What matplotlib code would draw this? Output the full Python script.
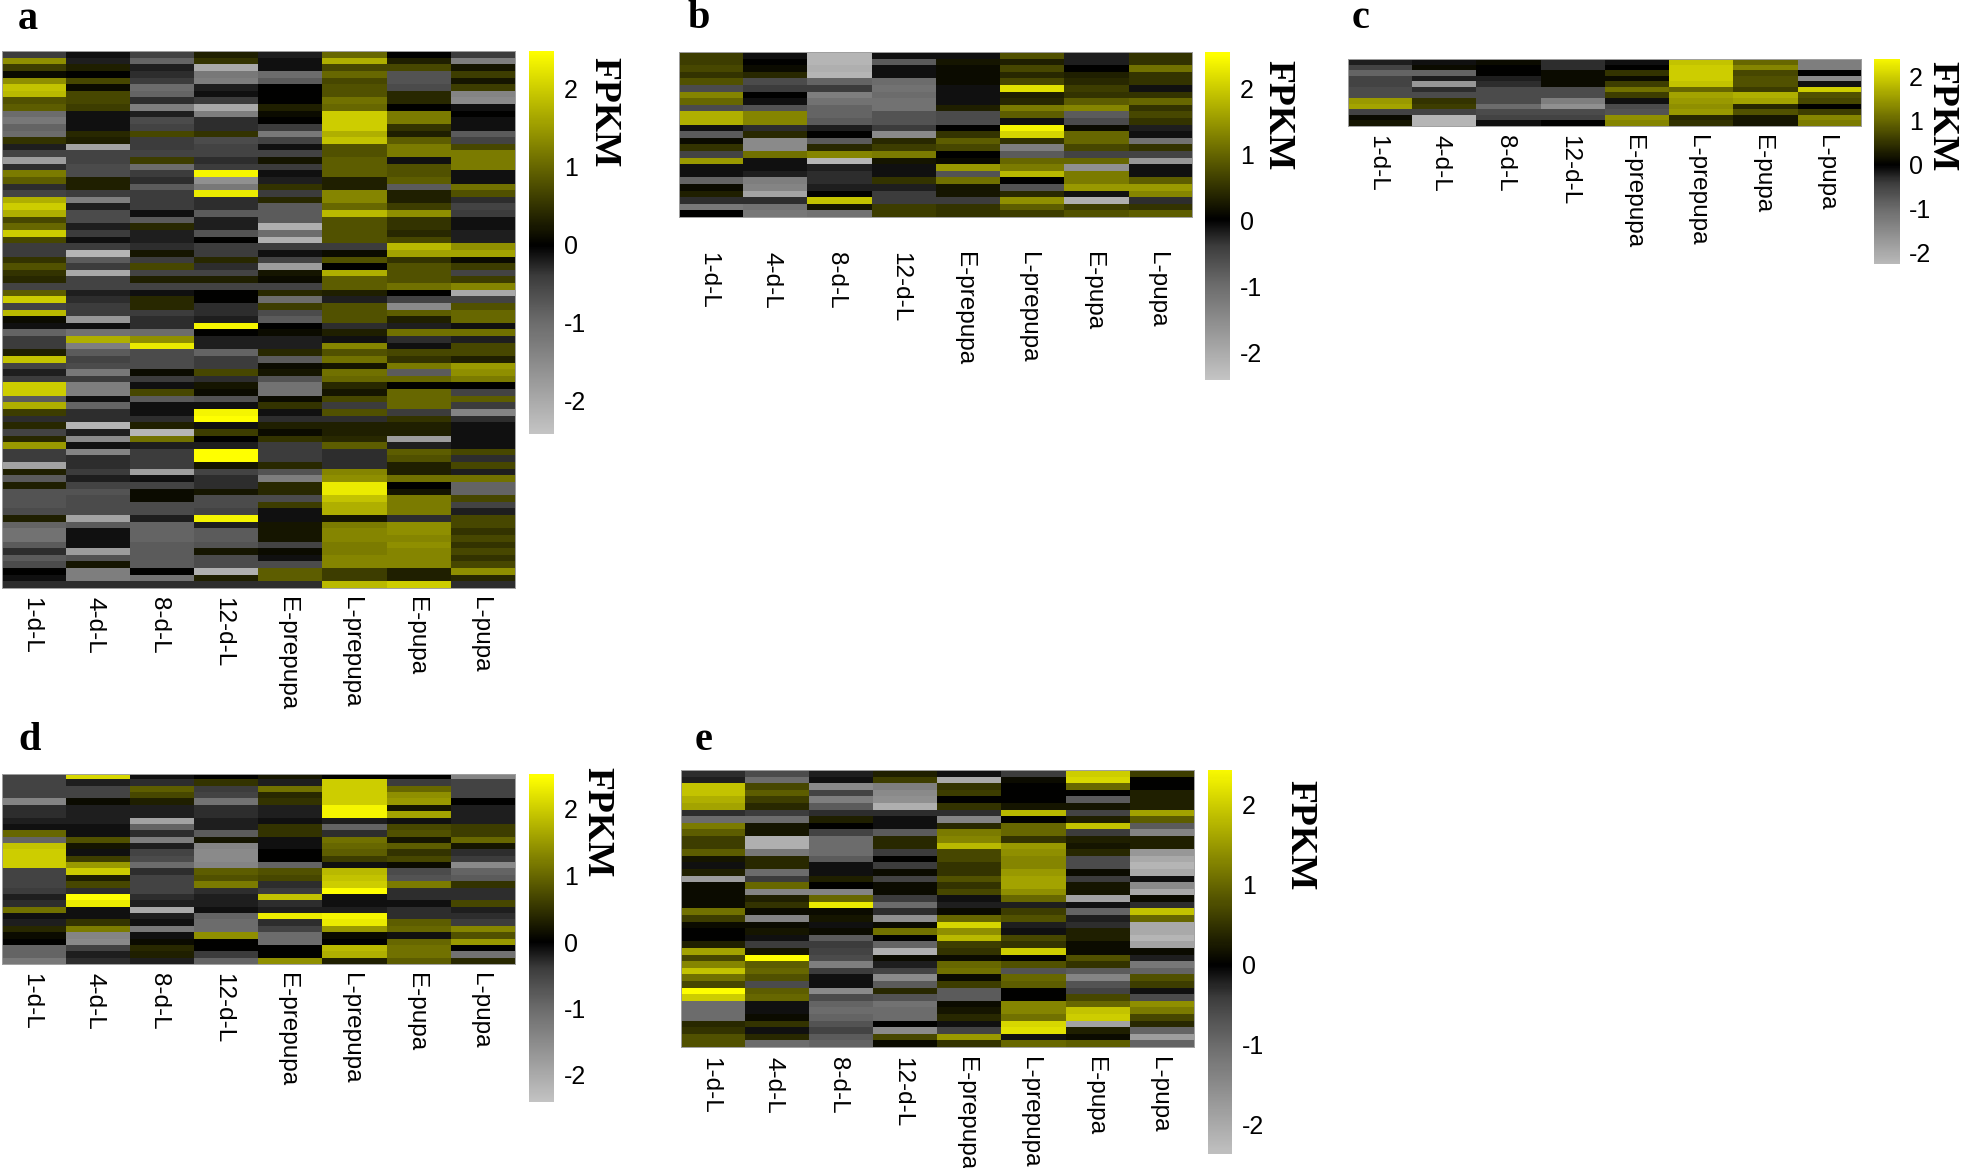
import numpy as np
import matplotlib
matplotlib.use("Agg")
import matplotlib.pyplot as plt
from matplotlib.colors import LinearSegmentedColormap

W, H = 1961, 1168
stages = ["1-d-L", "4-d-L", "8-d-L", "12-d-L", "E-prepupa", "L-prepupa", "E-pupa", "L-pupa"]
cbar_ticks = [2, 1, 0, -1, -2]

# panel a, one list per stage, rows top to bottom
a_1 = [-.4,1.4,.6,.1,1.4,1.9,1.8,.8,.9,
       -1,-1.2,-.9,-1,.5,-.2,-.5,-1.8,-.3,
       1.2,.9,-.3,-.5,1.7,2,1.7,.7,1,
       2,.7,-.4,-.4,.5,.8,.5,.4,-.5,
       .9,2,-.5,1.8,.1,-.1,-.9,-.4,-.4,
       .3,1.9,-.5,-.2,-.4,2,2,-.8,1.7,
       .6,-.3,.4,-.5,.4,1.5,-.4,-.4,-1.9,
       .3,-.8,.3,-.7,-.7,-.7,-.6,.3,-.9,
       -1.1,-1.1,-.8,-.3,-.8,-.6,0,-.1,-.3]
a_2 = [-.1,-.2,.3,0,.7,.1,.7,.7,.6,
       -.1,-.1,-.1,.4,.3,-1.9,-.5,-.5,-.6,
       -.6,.3,.3,-.4,-1.3,-.2,-.6,-.6,-.2,
       -.4,-.1,-.4,-2.2,-.8,-.4,-2,-.5,-.5,
       -.2,-.3,-.4,-.4,-1.7,-.1,-1.1,1.7,-1.3,
       -.8,-.5,-.6,-1.2,-.4,-1.3,-1.3,-.1,-.9,
       -.3,-.3,-2.2,-.2,-1.5,-.1,-1.4,-.3,-.3,
       -.4,-.2,-.5,-.7,-.6,-.6,-.6,-1.9,-.8,
       -.1,-.1,-.1,-1.8,-.7,.2,-1.3,-1.3,-.3]
a_3 = [-.5,-.9,-.2,-.3,-.4,-1,-.9,-.3,-1.3,
       -.2,-.6,-.5,.7,-.4,-.4,-.5,.6,-1,
       -.4,-.3,-.8,-.4,-.4,-.4,-.1,-.8,.4,
       -.2,-.2,-.3,.2,-.4,.7,-.5,.3,-.5,
       -.1,.4,.4,-.4,-.3,-.3,-1,1.4,2.3,
       -.6,-.6,-.6,.1,-.4,-.1,.7,-.8,-.1,
       -.1,-.3,.3,-2.2,1.1,-.2,-.4,-.4,-.4,
       -1.8,-.1,-.5,.1,.1,-.6,-.6,-.2,-.9,
       -.9,-.9,-.8,-.8,-.8,-.8,0,-1.1,-.3]
a_4 = [.3,.5,-2,-1.2,-1.3,-.2,-.1,-.4,-2,
       -1.3,-.3,-.3,.5,-.6,-.5,-.5,-.3,-.4,
       2.4,-1.6,-1.2,2.3,-.3,-.3,-.8,-.2,-.2,
       -.7,0,-.4,-.4,.4,-.3,-.5,.3,-.5,
       0,0,-.3,-.3,-.2,2.4,0,-.2,-.2,
       -.9,-.4,-.4,.7,-.3,.2,.1,-.7,-.1,
       2.4,2.6,-.1,.6,0,-.2,2.5,2.6,.2,
       -.5,-.3,-.3,.2,-.6,-.6,-.5,2.4,-.2,
       -.8,-.8,-.7,.2,-.6,-.6,-2.1,.3,-.3]
a_5 = [-.2,-.1,-.1,-1,-.8,0,0,0,.3,
       .1,0,-.4,-1.2,-.5,-.1,-.5,.2,-.4,
       -.1,-.2,.5,-.4,.4,-.8,-.8,-.8,-2.1,
       -1,-2.1,-.4,-.1,-.5,-1.8,.2,.1,-.5,
       .4,-1,.6,-.6,-.8,0,.1,-.2,-.2,
       .4,-.8,.1,.2,-.7,-1.1,-1.1,.1,.5,
       -.1,-.3,.3,.1,.5,-.4,-.4,-.4,.4,
       -.7,-1.3,.4,.4,-.6,.6,-.1,-.1,.2,
       .2,.2,-.5,.1,-.1,-.6,.9,.9,-.3]
a_6 = [1,1.7,.7,1,.7,.8,.8,1.1,1,
       2,2,2,1.7,1.9,.8,.8,.9,.9,
       .9,.3,.3,1.3,1.3,1,1.8,.8,.8,
       .8,.8,-.4,.1,.8,0,1.7,.9,.9,
       .3,-.2,.8,.8,.8,-.3,.3,-.1,1.3,
       .8,1.1,.2,1.1,1,.4,.2,.7,-.4,
       .8,-.3,.3,.3,.4,.9,-.3,-.3,-.3,
       1.3,1.4,2.3,2.3,1.9,1.7,1.7,.2,1.2,
       1.3,1.3,1.2,1.2,1.3,1.3,.6,.6,1.8]
a_7 = [0,.3,.7,-.7,-.7,-.6,.4,.4,0,
       1.2,1.2,.5,.3,.9,1.2,1.2,-.1,.8,
       .8,.9,-.8,.3,.3,.6,1.4,.5,.5,
       .4,.7,1.8,1.6,.5,.8,.8,.8,1.1,
       0,-.5,-1.5,.9,.3,-.2,1.1,-.3,-.1,
       .7,.5,1.2,-.8,1,0,1,1,1,
       -.4,.5,.3,.3,-1.8,-.2,.9,.8,.3,
       .3,1.1,0,.2,1.2,1.2,1.2,-.3,1.4,
       1.4,1.3,1.4,1.3,1.3,1.3,.3,.3,2]
a_8 = [-.4,-1.3,.2,.6,.2,.6,-1.4,-1.5,-.1,
       0,-.1,-.1,-.8,-.5,.7,1.2,1.2,1.2,
       -.1,-.1,1.1,.8,-.3,-.5,-.4,-.1,-.1,
       -.2,-.2,1.4,1.6,.1,.6,-.5,.6,1.3,
       -2,-.5,.8,1,1,-.1,1.1,-.2,.7,
       .7,.3,1.5,1.4,1.2,0,-.5,.9,-.4,
       -1.4,-.3,-.1,-.1,-.1,-.1,.7,-.3,.7,
       -.2,1.1,-.9,-.9,.7,-.5,-.2,.7,.7,
       .5,.7,.5,.7,.5,.7,1.4,.4,-.3]

# panel b
b_1 = [.6,.6,.7,.5,.8, -.6,1.3,1,-.6,1.7, 1.7,-.1,-.8,.1,.5, -.5,1.5,-.1,-.1,-.9, .1,.3,-.3,-1.2,0]
b_2 = [-.1,0,.1,.4,-.6, -.4,0,-.1,-.7,1.3, 1.3,-.3,.4,-1.5,-1.5, 1.1,-.1,-.1,-.2,-1.3, -1.4,-1.9,-.3,-1.1,-1.2]
b_3 = [-2.2,-2.2,-2.1,-2.2,-.9, -.4,-1.3,-1.1,-.9,-.9, -.8,-.2,0,-.8,.4, 1.3,-2.2,-.2,-.3,-.3, -.2,0,1.9,.2,-1.1]
b_4 = [-.1,-.8,-.1,-.1,-1, -1.1,-1,-1.1,-1.1,-.7, -.7,-.4,-1.5,.4,.6, 1.2,.2,-.1,-.1,.5, -.2,-.4,-.4,.6,.6]
b_5 = [-.1,.2,.1,.1,.1, -.1,-.1,-.1,.3,-.6, -.6,0,.5,.9,.7, 0,.1,1.5,-.7,1.1, .2,.2,-.4,.5,.5]
b_6 = [.8,.3,.7,.4,.7, 2.2,.3,.4,1.2,.9, -.1,2.4,2.1,.5,-1.3, -.8,1,1.2,1.8,0, -.7,.4,1.4,.9,.6]
b_7 = [-.2,-.2,0,.3,.4, .6,.5,.9,1.3,-.8, -.6,.1,1,1,.7, -.5,1,-1.6,1.2,1.2, 1.5,-.1,-2.1,.6,.8]
b_8 = [.5,.5,1.1,.5,.5, -.1,.5,1,.5,.7, .5,-.2,-.1,-1.1,.5, -.5,-1.7,-.1,-.1,.9, 1.5,1.3,-.3,.5,.9]

# panel c
c_1 = [-.2,-.5,-.9,-.5,-.5,-.6,-.6,1.5,1.6,-.5,.1,.2]
c_2 = [-.1,.1,-.9,-.2,-1.7,-.3,-.6,.5,.6,-.5,-2.2,-2.2]
c_3 = [.1,0,0,-.2,-.3,-.6,-.6,-.6,-1,-.6,-.5,-.1]
c_4 = [-.3,-.3,.1,.1,.1,-.6,-.6,-1.3,-1.6,-.6,-.5,0]
c_5 = [-.1,0,.5,.1,.6,1.1,.6,-.1,-.6,-.7,1.4,1.3]
c_6 = [1.9,2,2,2,1.9,1,1.6,1.5,1.4,1.5,.4,.5]
c_7 = [1,1.3,.7,.8,.8,.6,1.7,1.6,.4,.8,.2,.2]
c_8 = [-1.3,-1.3,0,-1.5,-.1,2,.8,.7,0,.6,1.3,1.2]

# panel d
d_1 = [-.5,-.5,-.5,-.5,-1.4, -.3,-.3,-.2,-.1,1, -.9,1.9,2,2,2, -.5,-.5,-.5,-.4,-.2, -.3,1.1,-.1,-.2,.4, .1,0,-.9,-.9,-1.2]
d_2 = [2.1,-.2,-.5,-.5,.1, -.2,-.2,-.2,-.1,-.1, .8,.2,-.1,.6,1.5, 2,.3,.7,-.3,2.5, 2.3,-.1,-.1,.5,1.2, -1.4,-1.5,-.5,-.2,-.3]
d_3 = [-.1,-.3,.9,.7,.3, -.2,-.2,-1.9,-.9,-.3, -1.3,-.2,-.5,-.6,-1, -.3,-.5,-.5,-.5,-.3, -.2,-2,-.2,-.1,-1.2, -.1,.1,.4,.3,-.2]
d_4 = [0,.5,-.4,-.5,-1.1, -.3,-.3,-.2,-.2,-.8, .2,-1.4,-1.5,-1.5,-1.4, .9,.8,1.2,-.3,-.2, -.2,-.1,-.9,-1,-1, 1.4,0,0,-.4,-.9]
d_5 = [.2,-.2,1.1,.4,.5, -.2,-.2,-.1,.5,.5, -.1,-.1,0,0,-.9, .8,.7,-.3,-.4,1.9, -.3,-.2,2.3,-.3,-.5, -1,-1,0,0,1.4]
d_6 = [0,2,2,2,2, 2.4,2.4,-.2,-.9,-.3, 1.1,1,.9,.6,-.1, 1.8,1.9,2,2.5,-.1, -.1,-.2,2.4,2.3,1.5, .1,0,1.8,1.7,.3]
d_7 = [0,-.4,1,1.4,1.5, .2,1.6,-.1,.7,.8, .2,.9,.5,.7,.1, -.6,-.7,1.2,-.3,-.3, -.1,-.3,-.3,.9,1, -.1,1,1.1,1.1,.9]
d_8 = [-1.4,-.5,-.5,-.5,0, -.2,-.2,-.2,.6,.6, 1,.2,-.3,-.4,-1.5, -.9,-.8,.5,-.3,-.3, .7,-.2,-.3,-.4,1.3, .8,1.5,0,-1.1,.4]

# panel e
e_1 = [-.3,-.2,1.9,1.9,1.7,1.6, -.3,-1,1.2,.9,.6,.6, .9,.2,-.1,.3,-1.8,.1, .1,.1,.1,1.1,.6,.1,
       0,0,.3,1.6,.7,1.3, 1.9,1.1,.7,2.5,2,-1, -1,-1,.4,.5,.8,.8]
e_2 = [-.6,-1,.7,.9,.6,.4, -.4,-1,.2,.2,-2.1,-2.1, -1.2,.4,.4,-1,-.4,1, -1.4,.3,.5,.1,-1.4,.1,
       .2,-.1,-.4,.2,2.5,.9, 1,.8,-.6,.9,1,-.1, -.1,.1,.5,-.1,.4,-1]
e_3 = [-.2,-.1,-1.5,-.5,-1.3,-.8, -.3,.3,0,-.5,-1,-1, -1,-.8,-.1,-.1,.3,0, -1.4,1,2.3,.1,.2,-.1,
       .1,-.8,-.4,-.5,-.6,-1.3, -.4,-.1,-.1,-1.5,-.6,-.9, -1,-.9,-.7,-.5,-.8,-.9]
e_4 = [.3,.6,-1.3,-1.5,-1.6,-2.1, -.3,-.1,-.1,-.8,.4,.4, -.4,0,-.4,.1,-.5,.1, .1,-.4,-1,-.3,-1.6,.1,
       1.1,0,-.9,-2.1,.1,-.2, -.5,-1.5,-.8,.4,-.7,-1.1, -1,-1,0,-1.5,.7,.1]
e_5 = [-.1,-2,.5,.6,0,.5, -.3,-1.4,.4,1.2,1.3,1.8, .7,.7,.5,.5,.8,.5, .7,-.1,-.2,.1,1,2.1,
       1.4,1.8,.6,.5,.1,1, 1.1,.1,.6,-.8,-.8,.1, .2,.4,-.1,-.5,1.5,.5]
e_6 = [-.4,.1,0,0,0,.2, 1.8,0,1,1,.5,1.5, 1.4,1.3,1.3,1.5,1.6,1.6, 1.4,1,-.2,.6,.8,-.2,
       -.1,.7,.5,2,0,.8, -.7,1,.9,0,0,1.3, 1.3,1.1,2.1,2.2,-.1,1]
e_7 = [2,2.1,1,0,-.8,.2, -.5,.3,1.9,-.4,.3,.2, .4,-.6,-.6,.1,-.4,.2, .2,-1.9,-.1,-.9,-.2,-.3,
       .3,.3,.1,.1,.8,.5, -.8,-1.4,-.7,-.5,.7,1, 1.9,2,-1.9,.3,.1,.9]
e_8 = [.6,0,0,.3,.3,.3, 1.6,.9,-.8,-1.4,.3,.3, -1.7,-2,-2.2,-2,-.1,-1.5, -2,.1,-.3,1.9,1,-2,
       -2,-2.2,-1.9,.1,-.2,-1.2, -.9,.8,.6,-.1,-.6,1.4, 1.2,.7,.4,-.9,-1.8,-.9]

# grey side lifted a bit, the reference greys are lighter than a straight ramp
cmap = LinearSegmentedColormap.from_list(
    "gy", [(0.0, "#c8c8c8"), (0.3, "#6c6c6c"), (0.42, "#3c3c3c"), (0.5, "#000000"), (1.0, "#ffff00")])
plt.rcParams["font.family"] = ["Liberation Sans", "DejaVu Sans"]

fig = plt.figure(figsize=(W / 100, H / 100), dpi=100)


def px_axes(x0, y0, x1, y1):
    return fig.add_axes([x0 / W, 1 - y1 / H, (x1 - x0) / W, (y1 - y0) / H])


def panel(letter, cols, heat, bar, bar_zero, bar_unit, lab_top, fpkm, letter_xy):
    data = np.array(cols).T
    ax = px_axes(*heat)
    ax.imshow(data, cmap=cmap, vmin=-2.5, vmax=2.5, aspect="auto", interpolation="nearest")
    ax.set_yticks([])
    ax.set_xticks(np.arange(8) - 0.05)
    pad = (lab_top - heat[3]) * 72 / 100
    ax.set_xticklabels(stages, rotation=270, ha="center", va="top", fontsize=17.5)
    ax.tick_params(axis="x", length=0, pad=pad)
    for s in ax.spines.values():
        s.set_color("#a0a0a0")
        s.set_linewidth(0.7)

    cax = px_axes(*bar)
    top = (bar_zero - bar[1]) / bar_unit
    bottom = (bar_zero - bar[3]) / bar_unit
    grad = np.linspace(top, bottom, 256).reshape(-1, 1)
    cax.imshow(grad, cmap=cmap, vmin=-2.5, vmax=2.5, aspect="auto", extent=[0, 1, bottom, top])
    cax.set_xticks([])
    cax.yaxis.tick_right()
    cax.set_yticks(cbar_ticks)
    cax.set_yticklabels([str(t) for t in cbar_ticks], fontsize=18)
    cax.tick_params(axis="y", length=0, pad=7)
    for s in cax.spines.values():
        s.set_visible(False)

    fig.text(fpkm[0] / W, 1 - fpkm[1] / H, "FPKM", rotation=270, ha="center", va="center",
             family="Liberation Serif", weight="bold", fontsize=27)
    fig.text(letter_xy[0] / W, 1 - letter_xy[1] / H, letter, ha="left", va="baseline",
             family="Liberation Serif", weight="bold", fontsize=29)


panel("a", [a_1, a_2, a_3, a_4, a_5, a_6, a_7, a_8], (2, 51, 515, 588), (529, 51, 554, 434),
      245, 78, 597, (604, 112), (18, 29))
panel("b", [b_1, b_2, b_3, b_4, b_5, b_6, b_7, b_8], (679, 52, 1192, 217), (1205, 52, 1230, 380),
      220, 66, 252, (1278, 115), (688, 28))
panel("c", [c_1, c_2, c_3, c_4, c_5, c_6, c_7, c_8], (1348, 59, 1861, 126), (1874, 59, 1899, 264),
      165, 44, 135, (1942, 116), (1352, 28))
panel("d", [d_1, d_2, d_3, d_4, d_5, d_6, d_7, d_8], (2, 774, 515, 964), (529, 774, 554, 1102),
      942, 66.5, 973, (597, 822), (18, 750))
panel("e", [e_1, e_2, e_3, e_4, e_5, e_6, e_7, e_8], (681, 770, 1194, 1047), (1208, 770, 1232, 1154),
      965, 80, 1057, (1300, 835), (695, 750))

fig.savefig("out.png", dpi=100, facecolor="white")
